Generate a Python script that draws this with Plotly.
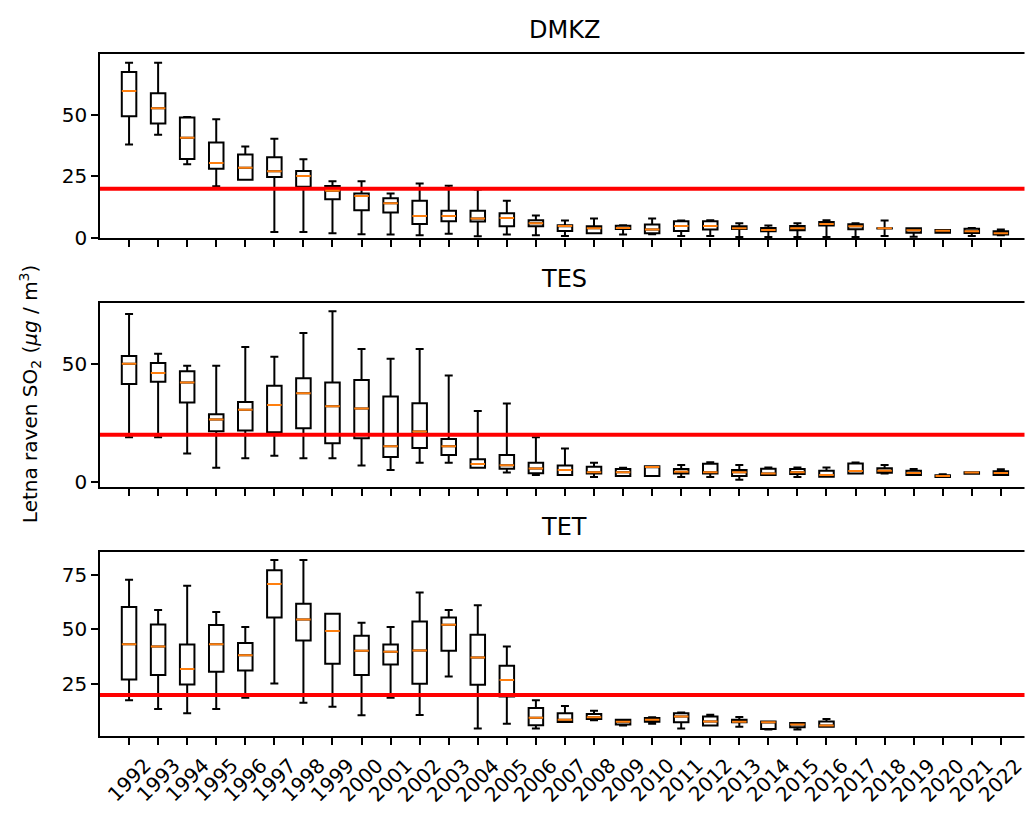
import plotly.graph_objects as go
from plotly.subplots import make_subplots

years = list(range(1992, 2023))
LIMIT = 20

# DMKZ
dmkz_low = [38, 42, 30, 21, 23.7, 2.4, 2.4, 1.9, 1.5, 1.4, 1.1, 1.7, 0.7, 1.4, 1.1, 0.8,
            1.9, 1.4, 1.5, 0.8, 0.8, 0.4, 0.4, 0.4, 0.4, 0.4, 0.8, 0.5, 2.1, 0.8, 1.1]
dmkz_q1 = [49.5, 46.5, 32.1, 28.1, 23.7, 24.8, 20.8, 15.7, 11.3, 10.4, 5.7, 6.8, 6.7, 4.8, 4.8, 2.8,
           1.9, 3.6, 1.9, 2.8, 3.4, 3.6, 2.7, 3.1, 5.1, 3.5, 3.9, 2.1, 2.1, 2.0, 1.4]
dmkz_med = [59.7, 52.7, 40.7, 30.5, 28.5, 27.1, 25.2, 19.2, 17.1, 14.1, 8.9, 8.9, 7.9, 8.1, 6.0, 4.9,
            4.0, 4.1, 3.4, 4.9, 4.9, 4.0, 3.2, 4.0, 5.7, 4.8, 4.0, 3.1, 2.9, 2.7, 1.9]
dmkz_q3 = [67.5, 58.8, 49.0, 38.8, 33.9, 32.8, 27.2, 21.1, 18.1, 16.1, 15.1, 11.1, 11.1, 10.1, 7.2, 5.2,
           4.8, 5.0, 5.5, 6.8, 6.8, 4.8, 4.1, 4.9, 6.5, 5.6, 4.0, 4.0, 3.2, 3.8, 2.7]
dmkz_high = [71.2, 71.2, 49.2, 48.3, 37.2, 40.3, 32.0, 23.1, 23.1, 18.1, 22.1, 21.2, 19.7, 15.1, 9.1, 7.1,
             7.9, 5.2, 7.9, 7.1, 7.2, 6.0, 5.1, 6.0, 7.2, 6.0, 7.1, 4.0, 3.2, 4.1, 3.4]

# TES
tes_low = [19, 19, 12.1, 6.1, 10.1, 11.1, 10.1, 10.1, 7, 5.1, 8.2, 8.2, 6.1, 4, 3, 3,
           2.1, 2.6, 2.6, 2.1, 2.1, 1, 3, 2.1, 2.2, 3.6, 3.6, 3, 2.1, 3.5, 3]
tes_q1 = [41.5, 42.4, 33.6, 21.5, 21.8, 21.1, 22.8, 16.4, 18.5, 10.6, 14.4, 11.4, 6.1, 5.6, 3.7, 3,
          3.6, 2.6, 2.6, 3.6, 3.6, 2.6, 3, 3.4, 2.2, 3.6, 3.9, 3, 2.1, 3.5, 3]
tes_med = [50, 46.1, 42.1, 26.5, 30.6, 32.6, 37.5, 32.1, 31.1, 15.1, 21.4, 15.1, 7.6, 7.1, 5.7, 5.1,
           4.2, 4.2, 6.4, 4.4, 4.2, 4.2, 3.6, 4.2, 3, 4.7, 4.8, 3.8, 2.6, 4.0, 3.8]
tes_q3 = [53.3, 50.3, 46.8, 28.7, 33.9, 40.7, 43.9, 42.1, 43.1, 36.2, 33.3, 18.2, 9.6, 11.4, 8.2, 7,
          6.5, 5.5, 6.7, 5.5, 7.8, 5.1, 5.6, 5.5, 4.8, 7.9, 5.8, 4.8, 2.9, 4.2, 4.6]
tes_high = [71.1, 54.2, 49.2, 49.2, 57.1, 53, 63, 72.2, 56.3, 52.1, 56.3, 45.1, 30.1, 33.2, 19, 14.2,
            8.2, 6.1, 6.7, 7.2, 8.4, 7.2, 6.2, 6.2, 6.2, 8.3, 7.2, 5.5, 3.3, 4.2, 5.4]

# TET (no data after 2016)
tet_low = [17.6, 13.6, 11.6, 13.6, 18.7, 25.3, 16.5, 14.6, 10.7, 18.7, 10.8, 28.5, 4.7, 6.8, 4.7,
           7.7, 8.4, 6.1, 6.8, 4.7, 6.1, 5.5, 4.2, 4.2, 5.5]
tet_q1 = [27.1, 29.1, 24.8, 30.6, 31.2, 55.4, 44.9, 34.3, 29.1, 33.9, 25.1, 40.2, 24.7, 19.3, 6.2,
          7.7, 9.0, 6.5, 7.8, 7.5, 6.1, 7.5, 4.5, 5.2, 5.5]
tet_med = [43.2, 42.2, 31.9, 43.2, 38.2, 70.8, 54.5, 49.3, 40.2, 39.8, 40.4, 52.1, 37.2, 26.9, 9.6,
           8.7, 9.8, 7.8, 8.7, 10.2, 7.9, 7.8, 7.5, 6.5, 6.1]
tet_q3 = [60.2, 52.2, 43.1, 52.0, 43.8, 77.1, 61.7, 57.2, 47.1, 43.1, 53.6, 55.4, 47.6, 33.4, 14.0,
          11.6, 11.3, 8.7, 9.5, 11.7, 10.2, 8.7, 7.9, 7.2, 7.9]
tet_high = [72.7, 58.9, 70.0, 58.0, 51.1, 81.8, 81.8, 57.2, 53.1, 51.1, 66.9, 58.9, 61.0, 42.2, 17.6,
            15.0, 12.8, 8.7, 9.8, 12.0, 11.0, 9.9, 7.9, 7.2, 9.0]

stations = [
    ("DMKZ", dmkz_low, dmkz_q1, dmkz_med, dmkz_q3, dmkz_high, [-0.2, 74.7], [0, 25, 50]),
    ("TES", tes_low, tes_q1, tes_med, tes_q3, tes_high, [-2.2, 75.7], [0, 50]),
    ("TET", tet_low, tet_q1, tet_med, tet_q3, tet_high, [1.2, 85.5], [25, 50, 75]),
]

W, H = 1027, 822
FONT = "DejaVu Sans"
BOXW = 0.5
XMAX = 31.9  # the original axes are cut off by the right edge of the picture

panels = [(55, 242), (307.5, 494.5), (560, 747)]
title_y = [30, 283, 535]

pos = list(range(1, len(years) + 1))

fig = make_subplots(rows=3, cols=1)

for row, (name, lo, q1, med, q3, hi, yr, yt) in enumerate(stations, start=1):
    x = pos[:len(med)]
    fig.add_trace(go.Box(x=x, q1=q1, median=med, q3=q3, lowerfence=lo, upperfence=hi,
                         width=BOXW, whiskerwidth=0.55, boxpoints=False,
                         line=dict(color="black", width=2), fillcolor="rgba(0,0,0,0)"),
                  row=row, col=1)
    fig.add_trace(go.Scatter(x=[0, XMAX], y=[LIMIT, LIMIT], mode="lines",
                             line=dict(color="red", width=4)), row=row, col=1)
    mx, my = [], []
    for p, m in zip(x, med):
        mx += [p - BOXW / 2, p + BOXW / 2, None]
        my += [m, m, None]
    fig.add_trace(go.Scatter(x=mx, y=my, mode="lines",
                             line=dict(color="#ff7f0e", width=2)), row=row, col=1)

    top, bot = panels[row - 1]
    fig.update_xaxes(domain=[100 / W, 1], range=[0, XMAX], tickvals=pos, showticklabels=False,
                     ticks="outside", ticklen=7, tickwidth=1.7, tickcolor="black",
                     showline=True, linecolor="black", linewidth=1.7, mirror=True,
                     showgrid=False, zeroline=False, row=row, col=1)
    fig.update_yaxes(domain=[1 - bot / H, 1 - top / H], range=yr, tickvals=yt,
                     ticks="outside", ticklen=7, tickwidth=1.7, tickcolor="black",
                     showline=True, linecolor="black", linewidth=1.7, mirror=False,
                     showgrid=False, zeroline=False, row=row, col=1)

    fig.add_annotation(text=name, xref="paper", yref="paper", x=564 / W, y=1 - title_y[row - 1] / H,
                       xanchor="center", yanchor="middle", showarrow=False,
                       font=dict(size=24, color="black", family=FONT))

# hide the vertical edge line at the right border of the plot area
fig.add_shape(type="rect", xref="paper", yref="paper", x0=1 - 2.5 / W, x1=1.01, y0=0.05, y1=0.97,
              fillcolor="white", line=dict(width=0), layer="above")

for p, yname in zip(pos, years):
    fig.add_annotation(text=str(yname), xref="x3", yref="paper", x=p, y=1 - 762 / H,
                       xanchor="center", yanchor="top", textangle=-45, showarrow=False,
                       font=dict(size=20, color="black", family=FONT))

fig.add_annotation(text="Letna raven SO<sub>2</sub> (<i>μg</i> / m<sup>3</sup>)",
                   xref="paper", yref="paper", x=30 / W, y=1 - 400 / H,
                   xanchor="center", yanchor="middle", textangle=-90, showarrow=False,
                   font=dict(size=20, color="black", family=FONT))

fig.update_layout(width=W, height=H, showlegend=False, plot_bgcolor="white", paper_bgcolor="white",
                  margin=dict(l=0, r=0, t=0, b=0),
                  font=dict(family=FONT, size=20, color="black"))

fig.write_html("out.html", config={"displayModeBar": False},
               post_script="document.body.style.margin='0';")
